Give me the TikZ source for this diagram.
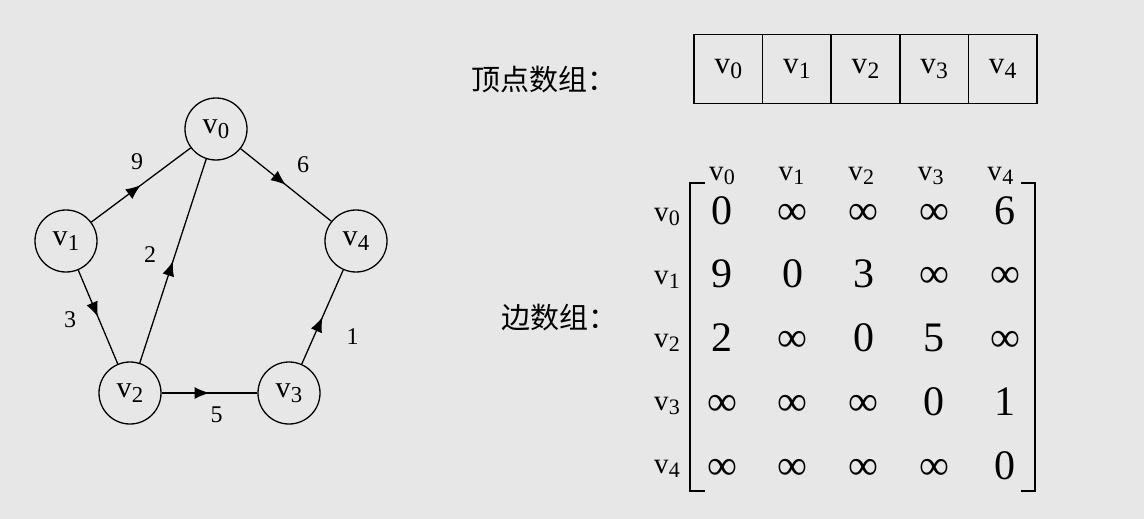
\documentclass[tikz,border=0pt]{standalone}
\usepackage{fontspec}
\setmainfont{Liberation Serif}
\newfontfamily\cjk{Noto Sans CJK SC}
\usetikzlibrary{arrows.meta,decorations.markings}
\definecolor{bgc}{RGB}{231,231,231}
\makeatletter
\newcommand{\vn}[1]{v\kern0.3pt\raisebox{-0.16em}{\fontsize{\strip@pt\dimexpr0.76\dimexpr\f@size pt\relax\relax}{1}\selectfont#1}}
\makeatother
\newcommand{\infs}{∞}

\begin{document}
\begin{tikzpicture}[x=1pt, y=-1pt,
	vtx/.style = {draw, circle, line width=1.3pt, minimum size=62pt, inner sep=0pt, font=\fontsize{30}{36}\selectfont},
	wt/.style = {font=\fontsize{24}{28}\selectfont, inner sep=0pt},
	cell/.style = {draw, line width=1.5pt, minimum size=68.6pt, inner sep=0pt, font=\fontsize{31}{36}\selectfont},
	lab/.style = {inner sep=0pt, font=\fontsize{29}{34}\selectfont},
	entry/.style = {inner sep=0pt, anchor=base, font=\fontsize{42}{48}\selectfont},
	title/.style = {anchor=west, inner sep=0pt, font=\cjk\fontsize{29}{34}\selectfont},
	edge/.style = {line width=1.3pt, postaction={decorate}, decoration={markings,
		mark=at position 0.5 with {\arrow{Latex[length=15pt,width=12pt]}}}}]
	\useasboundingbox[fill=bgc] (0,0) rectangle (1144,519);
	% graph
	\node[vtx] (0) at (216,129) {\vn{0}};
	\node[vtx] (1) at (66,241) {\vn{1}};
	\node[vtx] (2) at (130,393) {\vn{2}};
	\node[vtx] (3) at (289,393) {\vn{3}};
	\node[vtx] (4) at (356,241) {\vn{4}};
	\draw[edge] (1) -- (0) node[wt, midway, xshift=-4pt, yshift=23pt] {9};
	\draw[edge] (0) -- (4) node[wt, midway, xshift=17pt, yshift=20pt] {6};
	\draw[edge] (2) -- (0) node[wt, midway, xshift=-23pt, yshift=6pt] {2};
	\draw[edge] (1) -- (2) node[wt, midway, xshift=-28pt, yshift=-3pt] {3};
	\draw[edge] (2) -- (3) node[wt, midway, xshift=7pt, yshift=-22pt] {5};
	\draw[edge] (3) -- (4) node[wt, midway, xshift=30pt, yshift=-20pt] {1};
	% vertex array
	\node[title] (vt) at (471,80) {顶点数组：};
	\foreach \i in {0,...,4}
		\node[cell] (c\i) at (728.3+68.6*\i,69) {\vn{\i}};
	% edge array
	\node[title] (et) at (501,318) {边数组：};
	\foreach \row [count=\r from 0] in {{0,\infs,\infs,\infs,6},{9,0,3,\infs,\infs},{2,\infs,0,5,\infs},{\infs,\infs,\infs,0,1},{\infs,\infs,\infs,\infs,0}}
		\foreach \val [count=\c from 0] in \row
			\node[entry] (m\r\c) at (722+70.8*\c,224+63.8*\r) {\val};
	\foreach \i in {0,...,4} {
		\node[lab] (h\i) at (722+69.6*\i,176) {\vn{\i}};
		\node[lab] (r\i) at (667,217+63*\i) {\vn{\i}};
	}
	\draw[line width=2pt] (705,183) -- (690,183) -- (690,491) -- (705,491);
	\draw[line width=2pt] (1021,183) -- (1035,183) -- (1035,491) -- (1021,491);
\end{tikzpicture}
\end{document}
